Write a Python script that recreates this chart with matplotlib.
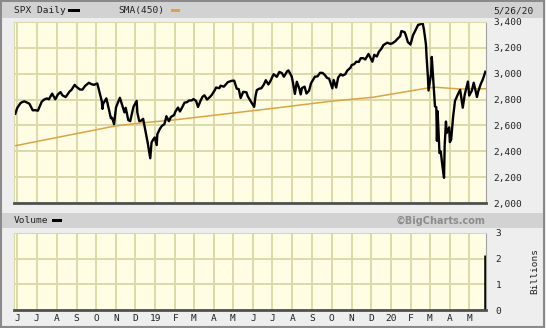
import numpy as np
import pandas as pd
import matplotlib
matplotlib.use("Agg")
import matplotlib.pyplot as plt
import matplotlib.dates as mdates
from matplotlib.patches import Rectangle

# SPX daily, sampled off the chart (close / swing extremes)
spx_dates = [
    "2018-05-29", "2018-06-01", "2018-06-06", "2018-06-08", "2018-06-12", "2018-06-15", "2018-06-20",
    "2018-06-25", "2018-06-29", "2018-07-03", "2018-07-09", "2018-07-13", "2018-07-17", "2018-07-20",
    "2018-07-25", "2018-07-30", "2018-08-03", "2018-08-07", "2018-08-10", "2018-08-15", "2018-08-21",
    "2018-08-24", "2018-08-29", "2018-08-31", "2018-09-06", "2018-09-10", "2018-09-14", "2018-09-20",
    "2018-09-24", "2018-09-28", "2018-10-03", "2018-10-05", "2018-10-10", "2018-10-11", "2018-10-12",
    "2018-10-17", "2018-10-19", "2018-10-24", "2018-10-26", "2018-10-29", "2018-11-01", "2018-11-07",
    "2018-11-09", "2018-11-14", "2018-11-16", "2018-11-20", "2018-11-23", "2018-11-28", "2018-12-03",
    "2018-12-04", "2018-12-07", "2018-12-10", "2018-12-13", "2018-12-17", "2018-12-20", "2018-12-24",
    "2018-12-26", "2018-12-28", "2018-12-31",
    "2019-01-03", "2019-01-04", "2019-01-08", "2019-01-11", "2019-01-15", "2019-01-18", "2019-01-22",
    "2019-01-25", "2019-01-30", "2019-02-01", "2019-02-05", "2019-02-08", "2019-02-12", "2019-02-15",
    "2019-02-19", "2019-02-22", "2019-02-26", "2019-03-01", "2019-03-05", "2019-03-08", "2019-03-12",
    "2019-03-15", "2019-03-18", "2019-03-22", "2019-03-26", "2019-03-29", "2019-04-03", "2019-04-05",
    "2019-04-10", "2019-04-12", "2019-04-17", "2019-04-23", "2019-04-26", "2019-04-30", "2019-05-03",
    "2019-05-07", "2019-05-10", "2019-05-13", "2019-05-17", "2019-05-22", "2019-05-24", "2019-05-29",
    "2019-06-03", "2019-06-05", "2019-06-07", "2019-06-11", "2019-06-14", "2019-06-18", "2019-06-21",
    "2019-06-25", "2019-06-28", "2019-07-03", "2019-07-08", "2019-07-12", "2019-07-16", "2019-07-19",
    "2019-07-24", "2019-07-26", "2019-07-31", "2019-08-02", "2019-08-05", "2019-08-08", "2019-08-12",
    "2019-08-14", "2019-08-16", "2019-08-20", "2019-08-23", "2019-08-27", "2019-08-30", "2019-09-05",
    "2019-09-09", "2019-09-13", "2019-09-17", "2019-09-20", "2019-09-24", "2019-09-27", "2019-10-02",
    "2019-10-04", "2019-10-08", "2019-10-11", "2019-10-15", "2019-10-18", "2019-10-22", "2019-10-25",
    "2019-10-30", "2019-11-01", "2019-11-05", "2019-11-08", "2019-11-12", "2019-11-15", "2019-11-19",
    "2019-11-22", "2019-11-27", "2019-12-03", "2019-12-06", "2019-12-10", "2019-12-13", "2019-12-17",
    "2019-12-20", "2019-12-26", "2019-12-31",
    "2020-01-03", "2020-01-08", "2020-01-10", "2020-01-15", "2020-01-17", "2020-01-22", "2020-01-24",
    "2020-01-27", "2020-01-31", "2020-02-04", "2020-02-07", "2020-02-12", "2020-02-14", "2020-02-19",
    "2020-02-21", "2020-02-24", "2020-02-25", "2020-02-27", "2020-02-28", "2020-03-03", "2020-03-04",
    "2020-03-06", "2020-03-09", "2020-03-11", "2020-03-12", "2020-03-13", "2020-03-16", "2020-03-18",
    "2020-03-20", "2020-03-23", "2020-03-24", "2020-03-26", "2020-03-27", "2020-03-31", "2020-04-01",
    "2020-04-03", "2020-04-06", "2020-04-09", "2020-04-14", "2020-04-17", "2020-04-21", "2020-04-24",
    "2020-04-29", "2020-05-01", "2020-05-05", "2020-05-08", "2020-05-13", "2020-05-15", "2020-05-19",
    "2020-05-22", "2020-05-26",
]
spx_values = [
    2690, 2735, 2772, 2779, 2786, 2780, 2767,
    2717, 2718, 2714, 2784, 2801, 2809, 2802,
    2846, 2802, 2840, 2858, 2833, 2819, 2862,
    2875, 2914, 2902, 2878, 2877, 2905, 2930,
    2919, 2914, 2925, 2886, 2786, 2728, 2767,
    2809, 2768, 2656, 2659, 2610, 2740, 2814,
    2781, 2701, 2736, 2641, 2633, 2744, 2790,
    2700, 2633, 2637, 2651, 2546, 2467, 2346,
    2468, 2486, 2507,
    2448, 2532, 2574, 2596, 2610, 2671, 2633,
    2665, 2681, 2707, 2738, 2708, 2745, 2776,
    2780, 2793, 2793, 2804, 2789, 2743, 2792,
    2822, 2833, 2800, 2818, 2834, 2873, 2893,
    2888, 2907, 2900, 2934, 2940, 2946, 2946,
    2884, 2881, 2812, 2860, 2856, 2826, 2783,
    2744, 2826, 2873, 2885, 2887, 2917, 2950,
    2917, 2942, 2996, 2976, 3014, 3004, 2977,
    3019, 3026, 2980, 2932, 2844, 2938, 2883,
    2840, 2889, 2900, 2847, 2869, 2926, 2977,
    2979, 3007, 3006, 2992, 2967, 2962, 2887,
    2952, 2893, 2970, 2996, 2986, 2996, 3023,
    3046, 3067, 3074, 3093, 3091, 3120, 3120,
    3110, 3153, 3093, 3146, 3133, 3169, 3193,
    3221, 3240, 3231,
    3235, 3253, 3265, 3289, 3330, 3321, 3295,
    3244, 3226, 3298, 3328, 3379, 3380, 3390,
    3338, 3226, 3128, 2979, 2870, 3003, 3130,
    2972, 2747, 2741, 2481, 2711, 2386, 2398,
    2305, 2195, 2447, 2630, 2541, 2585, 2471,
    2489, 2664, 2790, 2846, 2875, 2737, 2837,
    2939, 2831, 2868, 2930, 2820, 2864, 2922,
    2955, 3015,
]

# SMA(450)
sma_dates = ["2018-05-29", "2018-10-31", "2018-12-13", "2019-01-29", "2019-06-01", "2019-07-02",
             "2019-09-30", "2019-12-04", "2020-02-24", "2020-03-10", "2020-04-16", "2020-05-26"]
sma_values = [2443, 2596, 2621, 2642, 2714, 2732, 2787, 2818, 2887, 2895, 2882, 2884]

# volume (billions) - only the last session is drawn on the reference
vol_dates = ["2020-05-26"]
vol_values = [2.15]

price_ticks = [2000, 2200, 2400, 2600, 2800, 3000, 3200, 3400]
vol_ticks = [0, 1, 2, 3]

spx_x = pd.to_datetime(spx_dates)
sma_x = pd.to_datetime(sma_dates)
vol_x = pd.to_datetime(vol_dates)
months = pd.date_range("2018-06-01", "2020-05-01", freq="MS")
month_labels = [m.strftime("%y") if m.month == 1 else m.strftime("%b")[0] for m in months]

W, H = 546, 328
fig = plt.figure(figsize=(W / 100, H / 100), dpi=100)
fig.patch.set_facecolor("#eeeeee")

mono = "DejaVu Sans Mono"
txt = "#222222"
grid_c = "#dadaa8"
face = "#fffee4"


def box(x0, y0, x1, y1, **kw):
    # rectangle in pixel coords, y from the top
    fig.add_artist(Rectangle((x0 / W, 1 - y1 / H), (x1 - x0) / W, (y1 - y0) / H,
                             transform=fig.transFigure, **kw))


def ftext(x, y, s, **kw):
    fig.text(x / W, 1 - y / H, s, **kw)


# outer frame and header bars
box(0.5, 0.5, W - 2.5, H - 1.5, facecolor="none", edgecolor="#8a8a8a", lw=1.5)
box(2, 2, W - 3, 18, facecolor="#d2d2d2", edgecolor="none")
box(2, 213, W - 3, 228, facecolor="#d2d2d2", edgecolor="none")

ftext(14, 10.5, "SPX Daily", fontsize=6.8, family=mono, color=txt, va="center")
box(68, 9, 80, 12, facecolor="black", edgecolor="none")
ftext(118, 10.5, "SMA(450)", fontsize=6.8, family=mono, color=txt, va="center")
box(171, 9, 180, 12, facecolor="#dca440", edgecolor="none")
ftext(493, 10.5, "5/26/20", fontsize=6.8, family=mono, color=txt, va="center")

ftext(14, 220.5, "Volume", fontsize=6.8, family=mono, color=txt, va="center")
box(52, 219, 62, 222, facecolor="black", edgecolor="none")
ftext(486, 220.5, "\u00a9BigCharts.com", fontsize=7, fontweight="bold", color="#8c8c8c",
      va="center", ha="right")

ax = fig.add_axes([14 / W, 1 - 203 / H, 472 / W, 181 / H])
axv = fig.add_axes([14 / W, 1 - 310 / H, 472 / W, 77 / H])

xmin, xmax = pd.Timestamp("2018-05-27"), pd.Timestamp("2020-05-27")

for a in (ax, axv):
    a.set_facecolor(face)
    a.set_xlim(xmin, xmax)
    a.set_xticks(months)
    a.grid(True, color=grid_c, lw=1.4)
    a.set_axisbelow(True)
    a.yaxis.tick_right()
    a.tick_params(length=0, labelsize=6.8, colors=txt)
    a.spines["left"].set_color(grid_c)
    a.spines["top"].set_color(grid_c)
    a.spines["right"].set_color("#a0a0a0")
    a.spines["bottom"].set_color("#505050")
    a.spines["bottom"].set_linewidth(2)

ax.plot(sma_x, sma_values, color="#dca440", lw=1.1)
ax.plot(spx_x, spx_values, color="black", lw=1.7)
ax.set_ylim(2000, 3400)
ax.set_yticks(price_ticks)
ax.set_yticklabels([f"{v:,}" for v in price_ticks], family=mono)
ax.tick_params(axis="y", pad=5)
ax.set_xticklabels([])

axv.vlines(vol_x, 0, vol_values, color="black", lw=1.8)
axv.set_ylim(0, 3)
axv.set_yticks(vol_ticks)
axv.set_yticklabels([str(v) for v in vol_ticks], family=mono)
axv.tick_params(axis="y", pad=7)
axv.set_xticklabels(month_labels, family=mono)
axv.tick_params(axis="x", pad=3)

ftext(535, 271, "Billions", fontsize=6.8, family=mono, color=txt, rotation=90,
      va="center", ha="center")

fig.savefig("out.png", dpi=100, facecolor=fig.get_facecolor())
